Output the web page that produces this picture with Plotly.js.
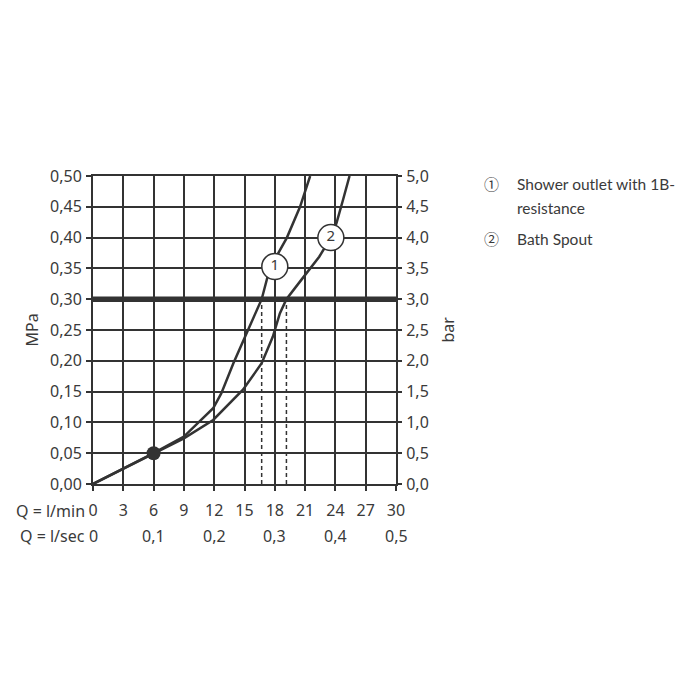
<!DOCTYPE html>
<html>
<head>
<meta charset="utf-8">
<script src="https://cdn.plot.ly/plotly-3.0.1.min.js"></script>
<style>html,body{margin:0;padding:0;background:#fff;}#chart{width:700px;height:700px;}</style>
</head>
<body>
<div id="chart"></div>
<script>
// Curve 1: Shower outlet with 1B-resistance
const flow1 = [0, 3, 6, 9, 11.2, 11.9, 12.7, 13.9, 15.35, 16.7, 17.5, 19.2, 20.5, 21.5];
const press1 = [0, 0.025, 0.05, 0.077, 0.112, 0.123, 0.147, 0.196, 0.25, 0.30, 0.35, 0.40, 0.45, 0.50];
// Curve 2: Bath Spout
const flow2 = [0, 3, 6, 9, 11.9, 14.85, 16.7, 17.8, 18.5, 19.15, 20.7, 22.4, 23.55, 24.1, 24.75, 25.4];
const press2 = [0, 0.025, 0.05, 0.074, 0.104, 0.153, 0.196, 0.239, 0.277, 0.30, 0.333, 0.369, 0.40, 0.423, 0.461, 0.50];
// Reference pressure line and operating points
const refPressure = 0.30;
const opFlows = [16.7, 19.15];
const basePoint = {x: 6, y: 0.05};
// Curve labels
const labelText = ["1", "2"];
const labelX = [18.0, 23.55];
const labelY = [0.353, 0.40];
// Tick labels
const minTicks = [0, 3, 6, 9, 12, 15, 18, 21, 24, 27, 30];
const secTicks = [0, 0.1, 0.2, 0.3, 0.4, 0.5];
const secLabels = ["0", "0,1", "0,2", "0,3", "0,4", "0,5"];
const legendMarks = ["\u2460", "\u2461"];
const legendLines = ["Shower outlet with 1B-", "resistance", "Bath Spout"];

const ink = "#333333";
const txt = "#3a3a3a";
const fnt = {family: "Noto Sans, sans-serif", size: 16, color: txt};
const lfnt = {family: "Lato, sans-serif", size: 15.5, color: txt};
const mfnt = {family: "Noto Sans CJK SC, sans-serif", size: 15, color: txt};

const traces = [];
traces.push({x: [0, 30], y: [refPressure, refPressure], mode: "lines", line: {color: ink, width: 5.5}, hoverinfo: "skip", showlegend: false});
opFlows.forEach(f => traces.push({x: [f, f], y: [0, refPressure], mode: "lines", line: {color: ink, width: 1.5, dash: "4px,3px"}, showlegend: false}));
traces.push({x: flow1, y: press1, mode: "lines", line: {color: ink, width: 2.5}, showlegend: false});
traces.push({x: flow2, y: press2, mode: "lines", line: {color: ink, width: 2.5}, showlegend: false});
traces.push({x: [basePoint.x], y: [basePoint.y], mode: "markers", marker: {color: ink, size: 14}, showlegend: false});
traces.push({x: labelX, y: labelY, mode: "markers+text", text: labelText, textposition: "middle center",
  textfont: {family: "Noto Sans, sans-serif", size: 15, color: txt},
  marker: {color: "#ffffff", size: 26, line: {color: ink, width: 1.5}}, showlegend: false});
traces.push({x: [0], y: [0], yaxis: "y2", mode: "markers", marker: {opacity: 0}, showlegend: false, hoverinfo: "skip"});

const annotations = [];
annotations.push({xref: "paper", yref: "paper", x: -0.02, y: -0.088, xanchor: "right", yanchor: "middle", text: "Q = l/min", showarrow: false, font: fnt});
annotations.push({xref: "paper", yref: "paper", x: -0.02, y: -0.169, xanchor: "right", yanchor: "middle", text: "Q = l/sec", showarrow: false, font: fnt});
secTicks.forEach((v, i) => annotations.push({xref: "x", yref: "paper", x: v * 60, y: -0.169, xanchor: "center", yanchor: "middle", text: secLabels[i], showarrow: false, font: fnt}));
annotations.push({xref: "paper", yref: "paper", x: -0.2, y: 0.5, text: "MPa", textangle: -90, showarrow: false, font: fnt, xanchor: "center", yanchor: "middle"});
annotations.push({xref: "paper", yref: "paper", x: 1.17, y: 0.5, text: "bar", textangle: -90, showarrow: false, font: fnt, xanchor: "center", yanchor: "middle"});
annotations.push({xref: "paper", yref: "paper", x: 1.283, y: 0.975, xanchor: "left", yanchor: "middle", text: legendMarks[0], showarrow: false, font: mfnt});
annotations.push({xref: "paper", yref: "paper", x: 1.283, y: 0.797, xanchor: "left", yanchor: "middle", text: legendMarks[1], showarrow: false, font: mfnt});
annotations.push({xref: "paper", yref: "paper", x: 1.394, y: 0.975, xanchor: "left", yanchor: "middle", text: legendLines[0], showarrow: false, font: lfnt});
annotations.push({xref: "paper", yref: "paper", x: 1.394, y: 0.897, xanchor: "left", yanchor: "middle", text: legendLines[1], showarrow: false, font: lfnt});
annotations.push({xref: "paper", yref: "paper", x: 1.394, y: 0.797, xanchor: "left", yanchor: "middle", text: legendLines[2], showarrow: false, font: lfnt});

const layout = {
  width: 700, height: 700,
  margin: {l: 93, r: 304, t: 176, b: 216},
  paper_bgcolor: "#ffffff", plot_bgcolor: "#ffffff",
  separators: ", ",
  showlegend: false,
  font: fnt,
  xaxis: {range: [0, 30], tickvals: minTicks, ticktext: minTicks.map(String), showgrid: true, gridcolor: ink, gridwidth: 2,
    zeroline: false, showline: true, linecolor: ink, linewidth: 2, mirror: true, ticks: "outside", ticklen: 5, tickcolor: ink, tickwidth: 2,
    ticklabelstandoff: 6, tickfont: fnt, fixedrange: true},
  yaxis: {range: [0, 0.5], dtick: 0.05, tickformat: ".2f", showgrid: true, gridcolor: ink, gridwidth: 2,
    zeroline: false, showline: true, linecolor: ink, linewidth: 2, mirror: true, ticks: "outside", ticklen: 5, tickcolor: ink, tickwidth: 2,
    tickfont: fnt, ticklabelstandoff: 1},
  yaxis2: {range: [0, 5], dtick: 0.5, tickformat: ".1f", overlaying: "y", side: "right", showgrid: false, zeroline: false,
    showline: false, ticks: "outside", ticklen: 5, tickcolor: ink, tickwidth: 2, tickfont: fnt, ticklabelstandoff: 1},
  annotations: annotations
};
Plotly.newPlot("chart", traces, layout, {staticPlot: true, displayModeBar: false});
</script>
</body>
</html>
